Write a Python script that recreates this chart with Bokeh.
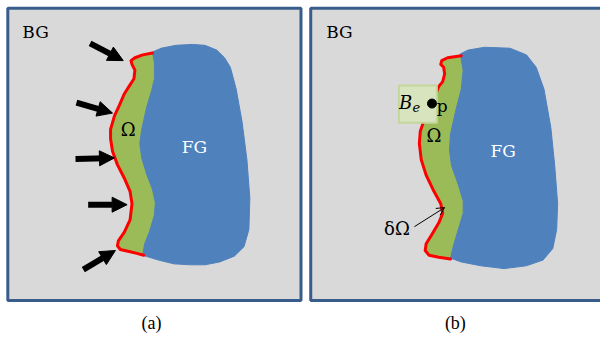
from bokeh.plotting import figure
from bokeh.models import Range1d, Arrow, NormalHead, OpenHead, ColumnDataSource
from bokeh.core.properties import value
from bokeh.embed import file_html
from bokeh.resources import INLINE

# ---------------- data (pixel coordinates of the drawing) ----------------
# panel frames: left, right, top, bottom
panel_left = [7.5, 318.5]
panel_right = [308.5, 625]
panel_top = [8, 8]
panel_bottom = [314.5, 314.5]

# panel (a) red contour (delta Omega), top to bottom
a_red_x = [156, 146, 138, 134, 135, 138, 137, 132, 127, 122, 117, 113, 113, 115, 120, 127, 133, 135, 133, 127, 121, 120, 123, 132, 140, 147]
a_red_y = [55, 57, 60, 63, 67, 73, 82, 90, 98, 110, 121, 135, 145, 158, 172, 186, 200, 213, 230, 243, 252, 257, 261, 263, 265, 267]
# panel (a) left edge of the FG blob, top to bottom
a_edge_x = [156, 158, 158, 155, 150, 145, 143, 145, 150, 156, 159, 158, 153, 148, 146]
a_edge_y = [54, 65, 82, 95, 112, 135, 150, 165, 182, 198, 212, 225, 242, 255, 267]
# panel (a) outer outline of FG blob, bottom to top
a_out_x = [146, 162, 178, 195, 210, 225, 240, 250, 255, 256, 253, 248, 242, 236, 230, 222, 210, 197, 180, 165, 156]
a_out_y = [267, 272, 276, 277, 277, 274, 268, 258, 240, 207, 167, 127, 93, 70, 60, 52, 47, 46, 47, 50, 54]

# panel (b)
b_red_x = [473, 466, 459, 453, 452, 455, 456, 454, 450, 444, 438, 434, 431, 430, 432, 437, 445, 452, 454, 450, 443, 437, 436, 440, 450, 462]
b_red_y = [58, 59, 60, 63, 67, 70, 77, 85, 90, 105, 118, 128, 137, 150, 167, 183, 200, 213, 223, 233, 245, 255, 262, 267, 269, 271]
b_edge_x = [472, 475, 473, 467, 462, 461, 463, 470, 475, 475, 470, 465, 462]
b_edge_y = [56, 73, 93, 117, 140, 157, 173, 193, 210, 223, 240, 257, 270]
b_out_x = [462, 473, 493, 517, 540, 557, 567, 571, 572, 569, 565, 558, 550, 540, 523, 497, 480, 472]
b_out_y = [270, 274, 278, 281, 278, 272, 260, 240, 213, 173, 133, 93, 70, 57, 50, 49, 52, 56]

# thick arrows of panel (a)
arr_x0 = [92, 78, 77, 90, 85]
arr_y0 = [45, 107, 166, 214, 282]
arr_x1 = [126, 115, 117, 130, 118]
arr_y1 = [63, 118, 165, 214, 262]

# B_e window and point p (panel b)
box_l, box_r, box_t, box_b = [409], [448], [89], [128]
pt_x, pt_y = [443], [108]

# thin arrow pointing at delta Omega
thin_x0, thin_y0, thin_x1, thin_y1 = 425, 237, 456, 217

# labels
bg_x, bg_y = [36, 348], [33, 33]
fg_x, fg_y = [199, 516], [154, 158]
om_x, om_y = [131, 445], [135, 142]
cap_x, cap_y, cap_t = [155, 467], [338, 338], ["(a)", "(b)"]

# ---------------- figure ----------------
p = figure(width=600, height=333, output_backend="svg", toolbar_location=None,
           x_range=Range1d(0, 616), y_range=Range1d(349, 0),
           x_axis_type=None, y_axis_type=None, min_border=0)
p.outline_line_color = None
p.background_fill_color = "white"
p.border_fill_color = "white"
p.grid.visible = False

FRAME = "#385D8A"
GRAY = "#D9D9D9"
GREEN = "#9BBB59"
BLUE = "#4F81BD"
RED = "#FF0000"

p.quad(left=panel_left, right=panel_right, top=panel_top, bottom=panel_bottom,
       fill_color=GRAY, line_color=FRAME, line_width=3)

# green band = red contour + blob edge reversed
for rx, ry, ex, ey, ox, oy in [(a_red_x, a_red_y, a_edge_x, a_edge_y, a_out_x, a_out_y),
                               (b_red_x, b_red_y, b_edge_x, b_edge_y, b_out_x, b_out_y)]:
    p.patch(rx + ex[::-1], ry + ey[::-1], fill_color=GREEN, line_color=GREEN, line_width=1)
    p.patch(ex + ox, ey + oy, fill_color=BLUE, line_color=BLUE, line_width=1)
    p.line(rx, ry, line_color=RED, line_width=3, line_join="round", line_cap="round")

# thick arrows
src = ColumnDataSource(dict(x0=arr_x0, y0=arr_y0, x1=arr_x1, y1=arr_y1))
p.add_layout(Arrow(end=NormalHead(size=15, fill_color="black", line_color="black", line_width=1),
                   x_start="x0", y_start="y0", x_end="x1", y_end="y1", source=src,
                   line_color="black", line_width=6))

# B_e box and point
p.quad(left=box_l, right=box_r, top=box_t, bottom=box_b,
       fill_color="#D7E4BD", line_color="#C3D69B", line_width=2)
p.scatter(pt_x, pt_y, size=9, color="black")

# thin arrow
p.add_layout(Arrow(end=OpenHead(size=8, line_color="black", line_width=1),
                   x_start=thin_x0, y_start=thin_y0, x_end=thin_x1, y_end=thin_y1,
                   line_color="black", line_width=1))

SERIF = value("DejaVu Serif")
p.text(bg_x, bg_y, text=["BG", "BG"], text_font=SERIF, text_font_size="17px",
       text_align="center", text_baseline="middle", text_color="black")
p.text(fg_x, fg_y, text=["FG", "FG"], text_font=SERIF, text_font_size="17px",
       text_align="center", text_baseline="middle", text_color="white")
p.text(om_x, om_y, text=["Ω", "Ω"], text_font=SERIF, text_font_size="18px",
       text_align="center", text_baseline="middle", text_color="black")
p.text(cap_x, cap_y, text=cap_t, text_font=value("Liberation Serif"), text_font_size="18px",
       text_align="center", text_baseline="middle", text_color="black")

# B_e, p, delta Omega
p.text([409], [107], text=["B"], text_font=SERIF, text_font_style="italic", text_font_size="18px",
       text_align="left", text_baseline="alphabetic", text_color="black")
p.text([423], [112], text=["e"], text_font=SERIF, text_font_style="italic", text_font_size="13px",
       text_align="left", text_baseline="alphabetic", text_color="black")
p.text([448], [111], text=["p"], text_font=SERIF, text_font_size="17px",
       text_align="left", text_baseline="alphabetic", text_color="black")
p.text([407], [239], text=["δΩ"], text_font=SERIF, text_font_size="18px",
       text_align="center", text_baseline="middle", text_color="black")

open("out.html", "w").write(file_html(p, INLINE))
